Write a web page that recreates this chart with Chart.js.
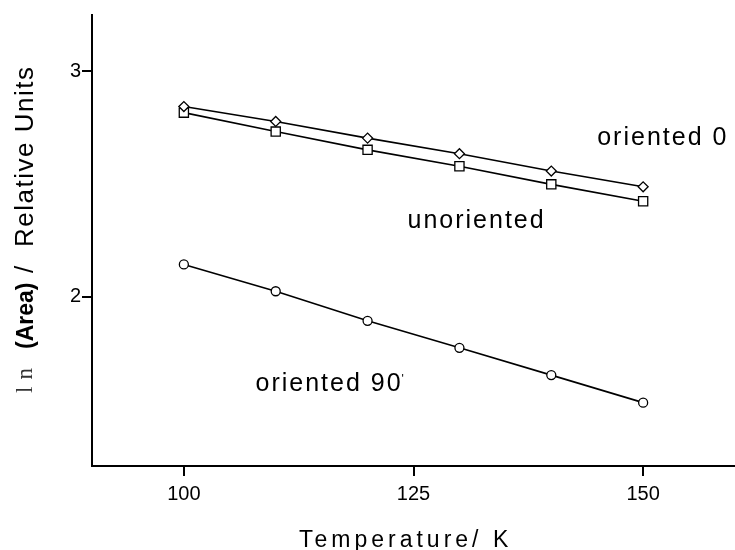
<!DOCTYPE html>
<html>
<head>
<meta charset="utf-8">
<script src="https://cdn.jsdelivr.net/npm/chart.js@4/dist/chart.umd.min.js"></script>
<style>
  html, body { margin: 0; padding: 0; background: #fff; }
  #wrap { width: 735px; height: 550px; }
</style>
</head>
<body>
<div id="wrap"><canvas id="chart" width="735" height="550"></canvas></div>
<script>
// values
const temperatures = [100, 110, 120, 130, 140, 150];
const oriented0 = [2.844, 2.778, 2.704, 2.635, 2.558, 2.488];
const unoriented = [2.817, 2.733, 2.652, 2.579, 2.499, 2.424];
const oriented90 = [2.144, 2.025, 1.894, 1.774, 1.653, 1.531];
const xTicks = [100, 125, 150];
const yTicks = [2, 3];
const seriesNames = ['oriented 0', 'unoriented', 'oriented 90'];

const FONT = "'Liberation Sans', Arial, Helvetica, sans-serif";

function points(ys) {
  return temperatures.map((t, i) => ({x: t, y: ys[i]}));
}

function series(label, ys, style, radius) {
  return {
    label: label,
    data: points(ys),
    borderColor: '#000',
    borderWidth: 1.6,
    pointStyle: style,
    pointRadius: radius,
    pointBorderWidth: 1.3,
    pointBackgroundColor: '#fff',
    pointBorderColor: '#000',
    fill: false,
    tension: 0
  };
}

// labels next to the lines, placed in data units
const curveLabels = [
  {text: seriesNames[0], x: 145, y: 2.705},
  {text: seriesNames[1], x: 124.35, y: 2.335},
  {text: seriesNames[2], x: 107.8, y: 1.614, prime: true}
];

const textPlugin = {
  id: 'texts',
  afterDraw(chart) {
    const ctx = chart.ctx;
    const xs = chart.scales.x, ys = chart.scales.y;

    // curve labels
    ctx.save();
    ctx.fillStyle = '#000';
    ctx.textBaseline = 'middle';
    ctx.textAlign = 'left';
    ctx.font = '25px ' + FONT;
    ctx.letterSpacing = '2px';
    curveLabels.forEach(l => {
      const px = xs.getPixelForValue(l.x);
      const py = ys.getPixelForValue(l.y);
      ctx.fillText(l.text, px, py);
      if (l.prime) {
        const w = ctx.measureText(l.text).width;
        ctx.save();
        ctx.font = '12px ' + FONT;
        ctx.letterSpacing = '0px';
        ctx.fillText("'", px + w - 1, py - 4);
        ctx.restore();
      }
    });
    ctx.restore();

    // x axis title
    ctx.save();
    ctx.fillStyle = '#000';
    ctx.font = '23px ' + FONT;
    ctx.letterSpacing = '4px';
    ctx.textBaseline = 'alphabetic';
    ctx.textAlign = 'left';
    ctx.fillText('Temperature/ K', 299, 547);
    ctx.restore();

    // y axis title, rotated, drawn in pieces
    ctx.save();
    ctx.translate(33, 0);
    ctx.rotate(-Math.PI / 2);
    ctx.fillStyle = '#000';
    ctx.textBaseline = 'alphabetic';
    ctx.textAlign = 'left';

    ctx.font = "23px 'Liberation Serif', 'DejaVu Serif', serif";
    ctx.fillStyle = '#333';
    ctx.letterSpacing = '7px';
    ctx.fillText('ln', -393, -1);

    ctx.fillStyle = '#000';
    ctx.font = 'bold 23px ' + FONT;
    ctx.letterSpacing = '0px';
    ctx.fillText('(Area)', -349, 0);

    ctx.font = '26px ' + FONT;
    ctx.fillText('/', -273, 0);

    ctx.letterSpacing = '1.5px';
    ctx.fillText('Relative Units', -247, 0);
    ctx.restore();
  }
};

new Chart(document.getElementById('chart'), {
  type: 'line',
  data: {
    datasets: [
      series(seriesNames[0], oriented0, 'rectRot', 5),
      series(seriesNames[1], unoriented, 'rect', 6.5),
      series(seriesNames[2], oriented90, 'circle', 4.5)
    ]
  },
  options: {
    responsive: false,
    animation: false,
    devicePixelRatio: 1,
    layout: {autoPadding: false, padding: {top: 15, right: 0, left: 0, bottom: 0}},
    plugins: {
      legend: {display: false},
      tooltip: {enabled: false}
    },
    scales: {
      x: {
        type: 'linear',
        min: 90,
        max: 160,
        afterBuildTicks: s => { s.ticks = xTicks.map(v => ({value: v})); },
        afterFit: s => { s.height = 84; },
        border: {color: '#000', width: 2},
        grid: {drawOnChartArea: false, drawTicks: true, tickLength: 10, color: '#000', lineWidth: 2},
        ticks: {
          color: '#000',
          font: {family: FONT, size: 20},
          padding: 6,
          maxRotation: 0,
          callback: v => String(v)
        }
      },
      y: {
        type: 'linear',
        min: 1.25,
        max: 3.25,
        afterBuildTicks: s => { s.ticks = yTicks.map(v => ({value: v})); },
        afterFit: s => { s.width = 92; },
        border: {color: '#000', width: 2},
        grid: {drawOnChartArea: false, drawTicks: true, tickLength: 10, color: '#000', lineWidth: 2},
        ticks: {
          color: '#000',
          font: {family: FONT, size: 20},
          padding: 1,
          callback: v => String(v)
        }
      }
    }
  },
  plugins: [textPlugin]
});
</script>
</body>
</html>
